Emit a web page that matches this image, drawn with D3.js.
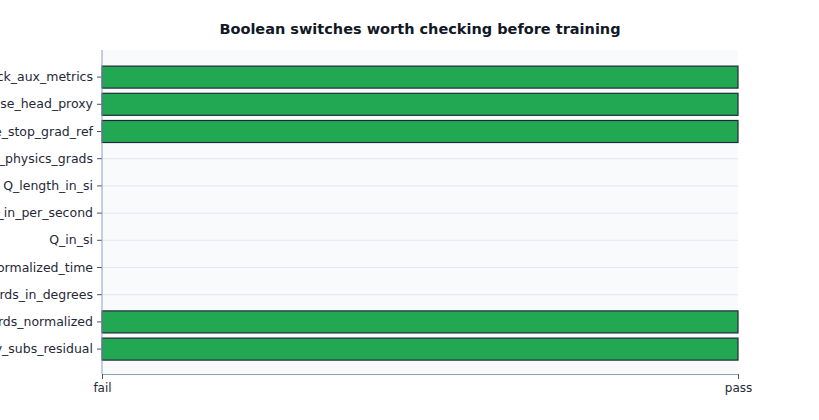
<!DOCTYPE html><html><head><script src="https://cdn.jsdelivr.net/npm/d3@7"></script>
<style>body{margin:0;background:#fff;font-family:"DejaVu Sans",sans-serif}</style></head><body><svg id="c" width="819" height="420"></svg><script>
const categories=["track_aux_metrics","use_base_head_proxy","use_stop_grad_ref","clip_physics_grads","Q_length_in_si","Q_rate_in_per_second","Q_in_si","use_normalized_time","coords_in_degrees","coords_normalized","any_subs_residual"];
const values=[1,1,1,0,0,0,0,0,0,1,1];
const xTicks=["fail","pass"];
const svg=d3.select("#c");
const L=102,R=738,T=50,B=374;
svg.append("text").attr("x",420).attr("y",34).attr("text-anchor","middle").attr("font-size",14.5).attr("font-weight","bold").attr("fill","#111827").text("Boolean switches worth checking before training");
svg.append("rect").attr("x",L).attr("y",T).attr("width",R-L).attr("height",B-T).attr("fill","#f8fafc");
const x=d3.scaleLinear().domain([0,1]).range([L,R]);
const y=d3.scaleBand().domain(categories).range([63.5,362.7]);
svg.selectAll(".g").data(categories).enter().append("line").attr("x1",L).attr("x2",R).attr("y1",d=>y(d)+y.bandwidth()/2).attr("y2",d=>y(d)+y.bandwidth()/2).attr("stroke","#e5e7eb");
svg.selectAll(".b").data(categories.filter((c,i)=>values[i]>0)).enter().append("rect")
 .attr("x",x(0)).attr("width",d=>x(values[categories.indexOf(d)])-x(0)).attr("y",d=>y(d)+y.bandwidth()/2-11).attr("height",22)
 .attr("fill","#22a853").attr("stroke","#1e293b").attr("stroke-width",1.2);
const ya=svg.append("g").attr("transform",`translate(${L},0)`).call(d3.axisLeft(y).tickSize(5).tickPadding(4).tickSizeOuter(0));
ya.selectAll("text").attr("font-size",12.5).attr("fill","#1f2937").attr("font-family","DejaVu Sans");
const xa=svg.append("g").attr("transform",`translate(0,${B})`).call(d3.axisBottom(x).tickValues([0,1]).tickFormat(d=>xTicks[d]).tickSize(5).tickPadding(4).tickSizeOuter(0));
xa.selectAll("text").attr("font-size",12).attr("fill","#1f2937").attr("font-family","DejaVu Sans");
ya.select(".domain").remove();
svg.append("line").attr("x1",L).attr("x2",L).attr("y1",T).attr("y2",B).attr("stroke","#8da0bf");
xa.select(".domain").attr("stroke","#8da0bf");
[ya,xa].forEach(a=>a.selectAll(".tick line").attr("stroke","#475569"));
</script></body></html>
